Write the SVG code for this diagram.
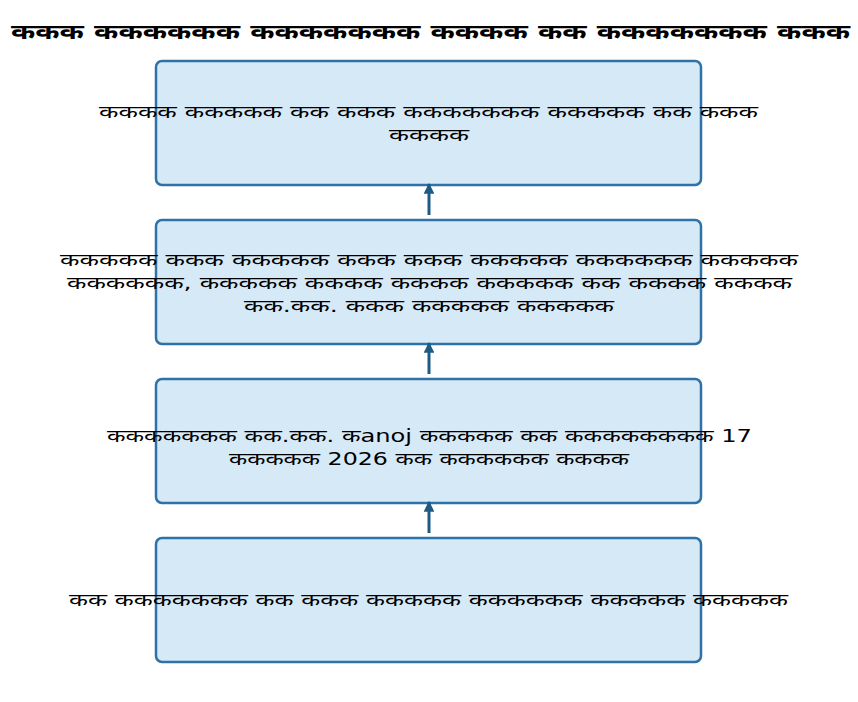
<svg xmlns="http://www.w3.org/2000/svg" width="858" height="702" viewBox="0 0 858 702">
<style>
.box{fill:#d6e9f7;stroke:#2e72a8;stroke-width:2.5}
.t{font-family:"DejaVu Sans","Noto Sans",sans-serif;font-size:17px;fill:#000;text-anchor:middle}
.title{font-family:"DejaVu Sans","Noto Sans",sans-serif;font-size:20px;font-weight:bold;fill:#000;text-anchor:middle}
.c{stroke:#1f5a85;stroke-width:3;fill:none}
</style>
<defs>
<marker id="ah" viewBox="0 0 10 10" refX="9" refY="5" markerWidth="3.6" markerHeight="3.6" orient="auto" markerUnits="strokeWidth">
<path d="M0,0 L10,5 L0,10 z" fill="#1f5a85"/>
</marker>
</defs>
<rect width="858" height="702" fill="#fff"/>
<text class="title" x="430.5" y="39" textLength="839" lengthAdjust="spacingAndGlyphs">ककक कककककक ककककककक कककक कक ककककककक ककक</text>
<g id="n1">
<rect class="box" x="156" y="61" width="545" height="124" rx="6"/>
<text class="t" x="428.5" y="118" textLength="659" lengthAdjust="spacingAndGlyphs">कककक ककककक कक ककक ककककककक ककककक कक ककक</text>
<text class="t" x="429" y="141" textLength="80" lengthAdjust="spacingAndGlyphs">कककक</text>
</g>
<g id="n2">
<rect class="box" x="156" y="220" width="545" height="124" rx="6"/>
<text class="t" x="429" y="265.5" textLength="738" lengthAdjust="spacingAndGlyphs">ककककक ककक ककककक ककक ककक ककककक कककककक ककककक</text>
<text class="t" x="429.5" y="288.5" textLength="725" lengthAdjust="spacingAndGlyphs">कककककक, ककककक कककक कककक ककककक कक कककक कककक</text>
<text class="t" x="429" y="311.5" textLength="370" lengthAdjust="spacingAndGlyphs">कक.कक. ककक ककककक ककककक</text>
</g>
<g id="n3">
<rect class="box" x="156" y="379" width="545" height="124" rx="6"/>
<text class="t" x="429.5" y="441.5" textLength="645" lengthAdjust="spacingAndGlyphs">ककककककक कक.कक. कanoj ककककक कक कककककककक 17</text>
<text class="t" x="429" y="464.5" textLength="400" lengthAdjust="spacingAndGlyphs">ककककक 2026 कक कककककक कककक</text>
</g>
<g id="n4">
<rect class="box" x="156" y="538" width="545" height="124" rx="6"/>
<text class="t" x="428.5" y="605.5" textLength="719" lengthAdjust="spacingAndGlyphs">कक ककककककक कक ककक ककककक कककककक ककककक ककककक</text>
</g>
<g id="connectors">
<line class="c" x1="429" y1="215" x2="429" y2="184" marker-end="url(#ah)"/>
<line class="c" x1="429" y1="374" x2="429" y2="343" marker-end="url(#ah)"/>
<line class="c" x1="429" y1="533" x2="429" y2="502" marker-end="url(#ah)"/>
</g>
</svg>
